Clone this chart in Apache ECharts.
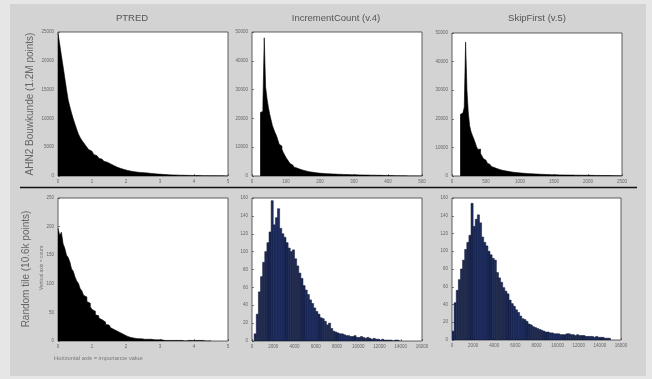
<!DOCTYPE html>
<html>
<head>
<meta charset="utf-8">
<script src="https://cdn.jsdelivr.net/npm/echarts@6/dist/echarts.min.js"></script>
<style>
  *{ margin:0; padding:0; }
  body{ background:#e6e6e6; }
  #chart{ width:652px; height:379px; }
</style>
</head>
<body>
<div id="chart"></div>
<script>
// column titles and row labels
const colTitles = ["PTRED", "IncrementCount (v.4)", "SkipFirst (v.5)"];
const rowLabels = ["AHN2 Bouwkunde (1.2M points)", "Random tile (10.6k points)"];

// x axis ranges / tick steps per panel
const xMax = [5, 500, 2500, 5, 16000, 16000];
const xStep = [1, 100, 500, 1, 2000, 2000];
const yMax = [25000, 50000, 50000, 250, 160, 160];
const yStep = [5000, 10000, 10000, 50, 20, 20];

// ---- top row: AHN2 Bouwkunde ----
const ptredStart = 0, ptredWidth = 0.05;
const ptredCounts = [
  24800,22900,20900,19000,17000,15000,13200,12000,10900,9900,
  9000,8100,7300,6700,6200,5800,5400,5000,4600,4300,
  4000,3750,3500,3300,3100,2900,2700,2550,2400,2250,
  2100,1950,1800,1650,1500,1400,1300,1200,1120,1040,
  970,900,840,790,740,700,660,630,600,580,
  560,530,500,470,440,410,380,350,330,310,
  290,270,250,235,220,205,190,180,170,160,
  150,140,132,125,118,111,104,98,92,86,
  80,75,70,66,62,58,54,50,46,43,
  40,37,34,31,28,25,22,19,16,13
];

const incStart = 24, incWidth = 4;
const incCounts = [
  22000,22500,24500,48000,31000,27000,24000,21500,19500,17500,
  16200,15000,14000,12500,11000,10400,9300,8200,7300,6400,
  5700,5000,4300,3800,3400,3050,2800,2600,2400,2250,
  2100,2000,1850,1700,1600,1500,1420,1350,1280,1200,
  1140,1080,1020,960,920,900,870,840,810,780,
  750,720,700,680,660,640,620,600,580,560,
  545,530,515,500,485,470,455,440,425,410,
  400,390,380,370,360,350,340,330,320,310,
  300,290,280,270,260,250,240,230,220,210,
  200,190,180,170,160,150,140,130,120,110,
  100,90,80,70,60,55,50,45,40,35,
  30,25,20,15,10,8,6,4,2,1
];

const skipStart = 120, skipWidth = 20;
const skipCounts = [
  21500,22000,22500,24000,46800,30000,22000,17500,15500,14200,
  13000,11700,10300,9300,9400,7900,7000,6100,5500,5000,
  4500,4050,3650,3300,3000,2800,2600,2450,2300,2150,
  2000,1900,1800,1720,1650,1580,1480,1400,1330,1270,
  1210,1160,1110,1060,1020,980,950,920,890,860,
  830,800,780,760,730,700,670,640,610,590,
  570,550,535,520,505,490,475,460,445,430,
  415,400,390,380,370,360,350,340,335,330,
  320,315,310,300,295,290,280,275,270,260,
  255,250,245,240,235,230,225,220,210,205,
  200,190,185,180,175,170,160,155,150,145,
  140,135,130,125,120,110,100,90,80
];

// ---- bottom row: Random tile ----
const rPtredStart = 0, rPtredWidth = 0.05;
const rPtredCounts = [
  197,185,190,170,162,150,146,138,126,122,
  112,105,101,92,88,80,77,69,66,60,
  55,52,46,44,40,37,34,33,29,28,
  25,23,20,19,17,16,14,13,11,10,
  8,8,6,6,5,4,4,3,4,3,
  3,2,3,2,3,2,2,1,2,1,
  2,1,1,2,1,1,1,0,1,1,
  1,0,1,1,0,1,1,0,1,0,
  1,0,1,0,1,0,0,1,0,1
];

const rIncStart = 200, rIncWidth = 200;
const rIncCounts = [
  8,30,55,72,88,100,110,122,157,130,
  138,148,126,120,116,110,104,100,102,92,
  84,76,70,62,57,52,46,42,37,33,
  30,26,25,22,18,20,14,11,10,9,
  8,8,7,6,6,5,5,6,4,4,
  5,4,3,4,3,2,3,2,2,1,
  2,1,1,1,1,0,1,1,0
];

const rSkipStart = 0, rSkipWidth = 200;
const rSkipCounts = [
  10,42,56,68,80,90,102,110,118,154,
  128,136,141,132,116,110,106,100,96,92,
  90,76,70,65,59,55,52,45,41,38,
  34,31,27,24,23,21,18,17,15,14,
  13,12,11,10,9,9,8,8,7,7,
  7,6,6,6,7,7,6,6,5,6,
  5,5,5,4,4,4,4,3,4,3,
  3,3,2,2,2
];

// solid black histograms are drawn as one filled step line, the blue ones as separate bars
const panels = [
  {start: ptredStart, width: ptredWidth, counts: ptredCounts, solid: true},
  {start: incStart, width: incWidth, counts: incCounts, solid: true},
  {start: skipStart, width: skipWidth, counts: skipCounts, solid: true},
  {start: rPtredStart, width: rPtredWidth, counts: rPtredCounts, solid: true},
  {start: rIncStart, width: rIncWidth, counts: rIncCounts, solid: false},
  {start: rSkipStart, width: rSkipWidth, counts: rSkipCounts, solid: false}
];

// plot boxes (px)
const boxes = [
  {left: 58, top: 32, width: 170, height: 144},
  {left: 252, top: 32, width: 170, height: 144},
  {left: 452, top: 33, width: 170, height: 143},
  {left: 58, top: 198, width: 170, height: 143},
  {left: 252, top: 198, width: 170, height: 143},
  {left: 452, top: 198, width: 169, height: 142}
];

let chart = echarts.init(document.getElementById('chart'));

const grids = [], xAxes = [], yAxes = [], series = [];
const plain = function(v){ return String(v); };
boxes.forEach(function(b, i){
  grids.push(Object.assign({show: true, backgroundColor: '#fff', borderColor: '#3a3a3a', borderWidth: 0.8}, b));
  xAxes.push({
    type: 'value', gridIndex: i, min: 0, max: xMax[i], interval: xStep[i],
    axisLine: {show: false}, splitLine: {show: false},
    axisTick: {show: true, inside: true, length: 2, lineStyle: {color: '#333', width: 0.6}},
    axisLabel: {fontSize: 4.5, color: '#666', margin: 3, fontFamily: 'Liberation Sans', formatter: plain}
  });
  yAxes.push({
    type: 'value', gridIndex: i, min: 0, max: yMax[i], interval: yStep[i],
    axisLine: {show: false}, splitLine: {show: false},
    axisTick: {show: true, inside: true, length: 2, lineStyle: {color: '#333', width: 0.6}},
    axisLabel: {fontSize: 4.5, color: '#666', margin: 4, fontFamily: 'Liberation Sans', formatter: plain}
  });
  const p = panels[i];
  if (p.solid) {
    const pts = p.counts.map(function(c, k){ return [p.start + k * p.width, c]; });
    pts.push([p.start + p.counts.length * p.width, 0]);
    series.push({
      type: 'line', xAxisIndex: i, yAxisIndex: i, step: 'end', symbol: 'none',
      data: pts,
      lineStyle: {color: '#000', width: 0.6},
      areaStyle: {color: '#000', opacity: 1}
    });
  } else {
    const bins = p.counts.map(function(c, k){
      return [p.start + k * p.width, p.start + (k + 1) * p.width, c];
    });
    series.push({
      type: 'custom', xAxisIndex: i, yAxisIndex: i, clip: true,
      encode: {x: [0, 1], y: 2},
      data: bins,
      renderItem: function(params, api){
        const a = api.coord([api.value(0), api.value(2)]);
        const b2 = api.coord([api.value(1), 0]);
        return {
          type: 'rect',
          shape: {x: a[0], y: a[1], width: b2[0] - a[0], height: b2[1] - a[1]},
          style: {fill: '#1d2c5c', stroke: '#0c1430', lineWidth: 0.5}
        };
      }
    });
  }
});

chart.setOption({
  backgroundColor: '#e6e6e6',
  animation: false,
  grid: grids,
  xAxis: xAxes,
  yAxis: yAxes,
  series: series,
  graphic: [
    {type: 'rect', z: -10, shape: {x: 10, y: 4, width: 636, height: 372}, style: {fill: '#d3d3d3'}},
    {type: 'line', shape: {x1: 20, y1: 187.5, x2: 637, y2: 187.5}, style: {stroke: '#111', lineWidth: 1.5}},
    {type: 'text', x: 132, y: 18, style: {text: colTitles[0], fontSize: 9.5, fill: '#555', align: 'center', verticalAlign: 'middle', fontFamily: 'Liberation Sans'}},
    {type: 'text', x: 336, y: 18, style: {text: colTitles[1], fontSize: 9.5, fill: '#555', align: 'center', verticalAlign: 'middle', fontFamily: 'Liberation Sans'}},
    {type: 'text', x: 537, y: 18, style: {text: colTitles[2], fontSize: 9.5, fill: '#555', align: 'center', verticalAlign: 'middle', fontFamily: 'Liberation Sans'}},
    {type: 'text', x: 30, y: 104, rotation: Math.PI / 2, style: {text: rowLabels[0], fontSize: 10, fill: '#666', align: 'center', verticalAlign: 'middle', fontFamily: 'Liberation Sans'}},
    {type: 'text', x: 26, y: 269, rotation: Math.PI / 2, style: {text: rowLabels[1], fontSize: 10, fill: '#666', align: 'center', verticalAlign: 'middle', fontFamily: 'Liberation Sans'}},
    {type: 'text', x: 42, y: 268, rotation: Math.PI / 2, style: {text: 'Vertical axis = count', fontSize: 5, fill: '#777', align: 'center', verticalAlign: 'middle', fontFamily: 'Liberation Sans'}},
    {type: 'text', x: 54, y: 358, style: {text: 'Horizontal axis = importance value', fontSize: 5.8, fill: '#777', align: 'left', verticalAlign: 'middle', fontFamily: 'Liberation Sans'}}
  ]
});
</script>
</body>
</html>
